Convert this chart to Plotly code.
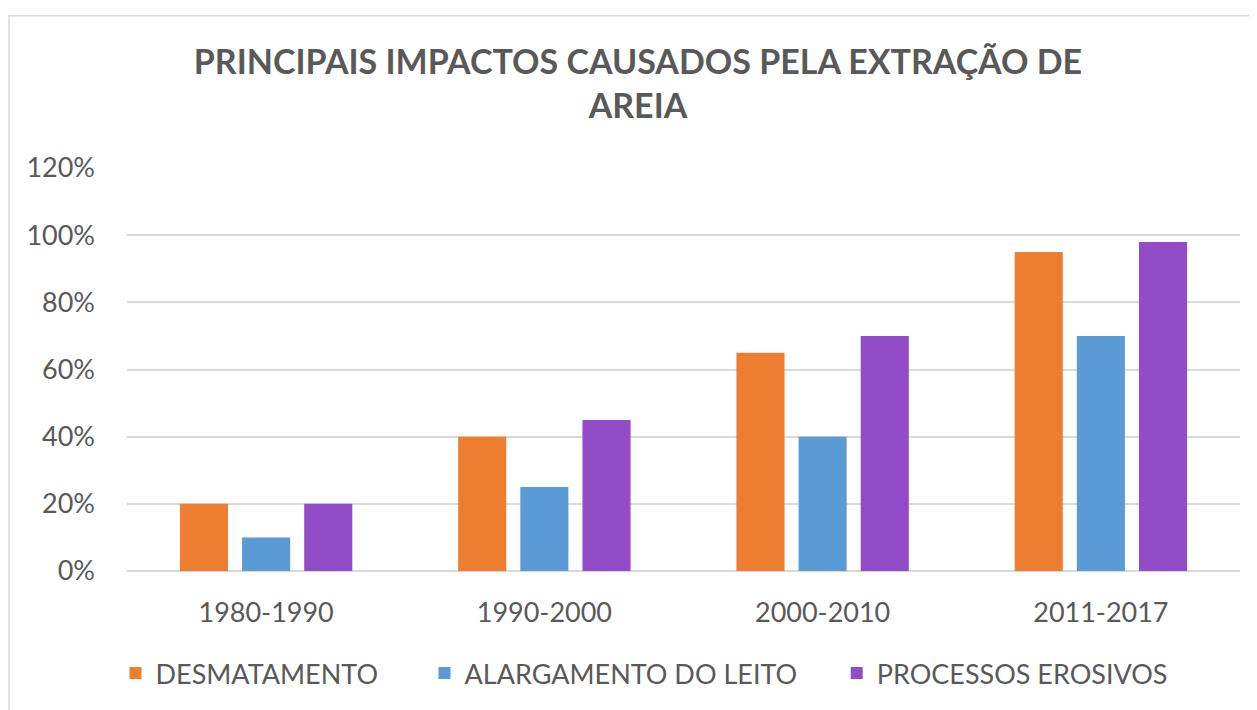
import plotly.graph_objects as go

categories = ["1980-1990", "1990-2000", "2000-2010", "2011-2017"]
desmatamento = [0.20, 0.40, 0.65, 0.95]
alargamento = [0.10, 0.25, 0.40, 0.70]
processos = [0.20, 0.45, 0.70, 0.98]
series_names = ["DESMATAMENTO", "ALARGAMENTO DO LEITO", "PROCESSOS EROSIVOS"]
colors = ["#ED7D31", "#5B9BD5", "#934CC8"]
y_ticks = [0, 0.2, 0.4, 0.6, 0.8, 1.0, 1.2]

FONT = "Lato"
GRAY = "#595959"
W, H = 1249, 702
L, T, R, B = 119, 160, 17, 137
PW = W - L - R
PH = H - T - B

NB = "\u00a0"
pads = [NB * 6, NB * 5, ""]

fig = go.Figure()
for name, vals, col, pad in zip(series_names, [desmatamento, alargamento, processos], colors, pads):
    fig.add_trace(go.Bar(x=categories, y=vals, name=name + pad,
                         marker=dict(color=col, line=dict(width=0))))

fig.update_layout(
    width=W, height=H,
    paper_bgcolor="white", plot_bgcolor="white",
    margin=dict(l=L, r=R, t=T, b=B),
    barmode="group", bargap=0.33, bargroupgap=0.226,
    title=dict(
        text="<b>PRINCIPAIS IMPACTOS CAUSADOS PELA EXTRAÇÃO DE<br>AREIA</b>",
        x=630 / W, xanchor="center", y=1 - 66 / H, yanchor="middle",
        font=dict(family=FONT, size=34, color=GRAY),
    ),
    font=dict(family=FONT, color=GRAY),
    legend=dict(
        orientation="h", x=(636 - L) / PW, xanchor="center",
        y=-(668 - (T + PH)) / PH, yanchor="middle",
        font=dict(family=FONT, size=27, color=GRAY),
        itemwidth=30, tracegroupgap=0,
    ),
    showlegend=True,
)
fig.update_yaxes(
    range=[0, 1.2], tickvals=y_ticks, tickformat=".0%",
    showgrid=True, gridcolor="#D9D9D9", gridwidth=1.5,
    zeroline=True, zerolinecolor="#D9D9D9", zerolinewidth=1.5,
    showline=False, ticks="", ticklen=0,
    tickfont=dict(family=FONT, size=27, color=GRAY),
    ticklabelstandoff=31,
)
fig.update_xaxes(
    showgrid=False, showline=False, ticks="",
    tickfont=dict(family=FONT, size=27, color=GRAY),
    ticklabelstandoff=23,
)
fig.add_shape(
    type="rect", xref="paper", yref="paper",
    x0=(1 - L) / PW, x1=1.2, y0=-0.6, y1=(T + PH - 7) / PH,
    line=dict(color="#D9D9D9", width=1.5), fillcolor="rgba(0,0,0,0)", layer="below",
)
fig.write_html("out.html")
